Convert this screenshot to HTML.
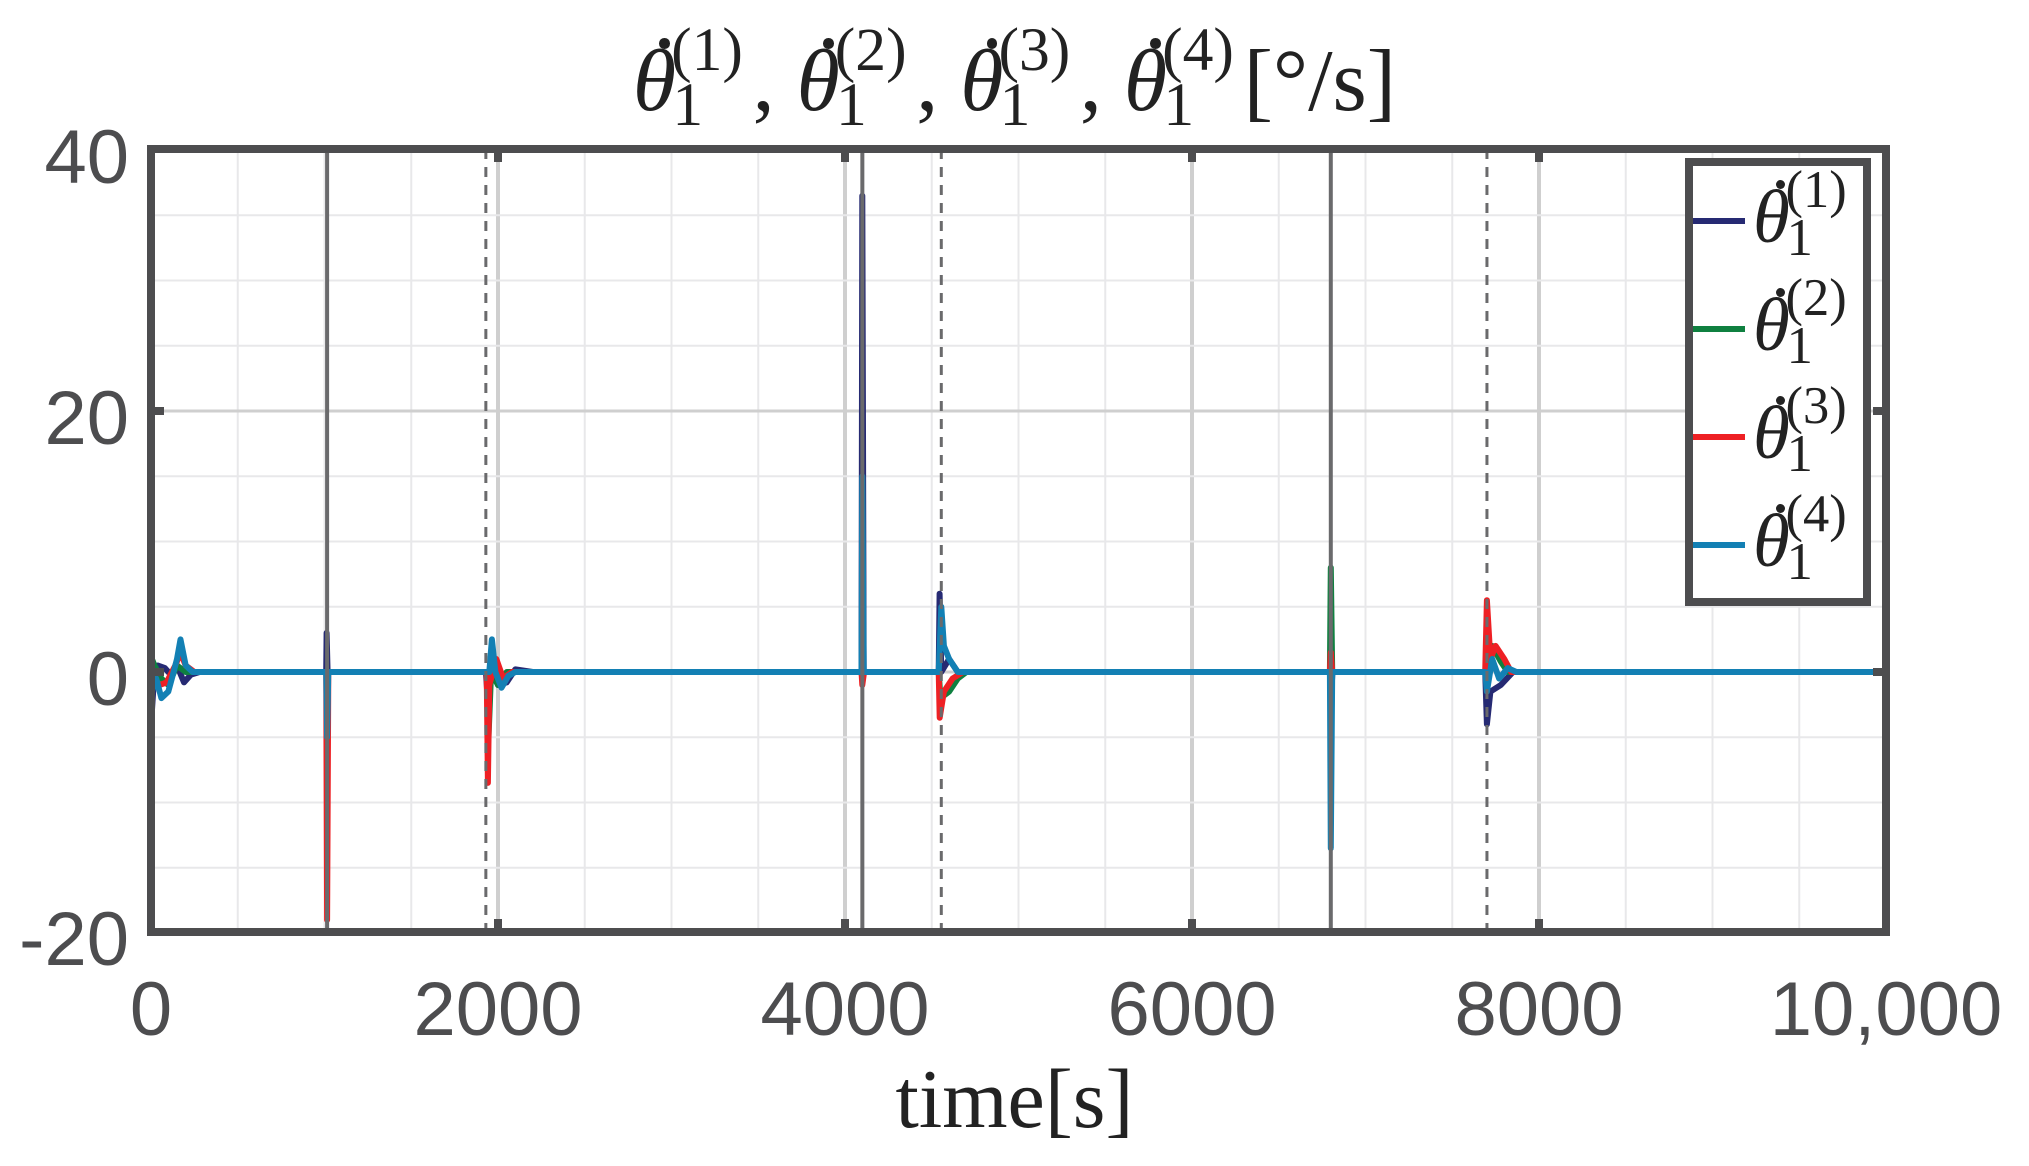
<!DOCTYPE html>
<html><head><meta charset="utf-8"><style>
html,body{margin:0;padding:0;background:#fff;}
body{width:2029px;height:1166px;position:relative;overflow:hidden;font-family:"Liberation Sans",sans-serif;}
.tk{position:absolute;color:#4d4d4f;font-size:76px;line-height:1;}
.ser{font-family:"Liberation Serif",serif;color:#222;line-height:1;white-space:nowrap;}
.sym{display:inline-block;position:relative;width:1.36em;height:1em;vertical-align:top;}
.th{font-style:italic;position:absolute;left:0;top:0;}
.dt{display:block;position:absolute;left:.3em;top:.0em;width:.12em;height:.12em;border-radius:50%;background:#222;}
.sp{position:absolute;left:.62em;top:-.3em;font-size:.7em;}
.sb{position:absolute;left:.64em;top:.6em;font-size:.7em;}
</style></head><body>
<svg id="s" width="2029" height="1166" style="position:absolute;left:0;top:0">
<g id="grid"></g>
<g id="data" fill="none" stroke-width="6" stroke-linejoin="round"></g>
<g id="ev"></g>
<rect x="151" y="149" width="1735" height="783" fill="none" stroke="#4d4d4f" stroke-width="8"/>
<g id="ticks" stroke="#4d4d4f" stroke-width="8"></g>
</svg>
<div class="tk" style="right:1900px;top:120px">40</div>
<div class="tk" style="right:1900px;top:381px">20</div>
<div class="tk" style="right:1900px;top:642px">0</div>
<div class="tk" style="right:1900px;top:902px">-20</div>
<div class="tk" style="left:151px;top:972px;transform:translateX(-50%)">0</div>
<div class="tk" style="left:498px;top:972px;transform:translateX(-50%)">2000</div>
<div class="tk" style="left:845px;top:972px;transform:translateX(-50%)">4000</div>
<div class="tk" style="left:1192px;top:972px;transform:translateX(-50%)">6000</div>
<div class="tk" style="left:1539px;top:972px;transform:translateX(-50%)">8000</div>
<div class="tk" style="left:1886px;top:972px;transform:translateX(-50%)">10,000</div>
<div class="ser" style="position:absolute;left:0;width:2029px;top:1058px;text-align:center;font-size:84px;">time[s]</div>
<div class="ser" style="position:absolute;left:0;width:2029px;top:38px;text-align:center;font-size:88px;">
<span class="sym"><span class="th">θ</span><span class="dt"></span><span class="sp">(1)</span><span class="sb">1</span></span>, <span class="sym"><span class="th">θ</span><span class="dt"></span><span class="sp">(2)</span><span class="sb">1</span></span>, <span class="sym"><span class="th">θ</span><span class="dt"></span><span class="sp">(3)</span><span class="sb">1</span></span>, <span class="sym"><span class="th">θ</span><span class="dt"></span><span class="sp">(4)</span><span class="sb">1</span></span>[°/s]
</div>
<div style="position:absolute;left:1685px;top:158px;width:170px;height:432px;border:8px solid #4d4d4f;background:#fff;">
 <div class="ser" style="position:absolute;left:60px;top:14px;font-size:75px;"><span class="sym"><span class="th">θ</span><span class="dt"></span><span class="sp">(1)</span><span class="sb">1</span></span></div>
 <div class="ser" style="position:absolute;left:60px;top:122px;font-size:75px;"><span class="sym"><span class="th">θ</span><span class="dt"></span><span class="sp">(2)</span><span class="sb">1</span></span></div>
 <div class="ser" style="position:absolute;left:60px;top:230px;font-size:75px;"><span class="sym"><span class="th">θ</span><span class="dt"></span><span class="sp">(3)</span><span class="sb">1</span></span></div>
 <div class="ser" style="position:absolute;left:60px;top:338px;font-size:75px;"><span class="sym"><span class="th">θ</span><span class="dt"></span><span class="sp">(4)</span><span class="sb">1</span></span></div>
 <div style="position:absolute;left:0;top:52px;width:52px;height:6px;background:#262a73"></div>
 <div style="position:absolute;left:0;top:160px;width:52px;height:6px;background:#0f8040"></div>
 <div style="position:absolute;left:0;top:268px;width:52px;height:6px;background:#ee2024"></div>
 <div style="position:absolute;left:0;top:376px;width:52px;height:6px;background:#1380b4"></div>
</div>
<script>
var NS="http://www.w3.org/2000/svg";
function X(t){return 151+t*0.1735;}function Y(v){return 672-v*13.05;}
function el(p,tag,a){var e=document.createElementNS(NS,tag);for(var k in a)e.setAttribute(k,a[k]);document.getElementById(p).appendChild(e);}
for(var t=500;t<10000;t+=500){el("grid","line",{x1:X(t),x2:X(t),y1:149,y2:932,stroke:t%2000==0?"#cfcfcf":"#e8e8ea","stroke-width":t%2000==0?4:2});}
for(var v=-15;v<40;v+=5){el("grid","line",{x1:151,x2:1886,y1:Y(v),y2:Y(v),stroke:v%20==0?"#cfcfcf":"#e8e8ea","stroke-width":v%20==0?3:2});}
[2000,4000,6000,8000].forEach(function(t){el("ticks","line",{x1:X(t),x2:X(t),y1:149,y2:162});el("ticks","line",{x1:X(t),x2:X(t),y1:932,y2:919});});
[20,0].forEach(function(v){el("ticks","line",{x1:151,x2:164,y1:Y(v),y2:Y(v)});el("ticks","line",{x1:1886,x2:1873,y1:Y(v),y2:Y(v)});});
function path(c,pts){var d="";pts.forEach(function(p,i){d+=(i?"L":"M")+X(p[0]).toFixed(1)+" "+Y(p[1]).toFixed(1);});el("data","path",{d:d,stroke:c});}
var navy=[[0,0],[5,-3],[15,-1],[40,0.5],[80,0.3],[120,-0.3],[150,0.5],[190,-0.8],[230,-0.2],[280,0],[1010,0],[1012,3],[1018,0],[1930,0],[1945,-3],[1960,1],[2000,-1],[2050,-0.8],[2100,0.2],[2200,0],[4095,0],[4100,36.5],[4108,0],[4540,0],[4545,6],[4555,0],[4600,1],[4650,0],[6800,0],[6805,-1],[6810,0],[7690,0],[7700,-4],[7720,-1.5],[7780,-1],[7850,0],[10000,0]];
var green=[[0,0],[5,1],[20,0.5],[60,-0.5],[100,-1],[150,0.5],[200,0],[1010,0],[1940,0],[1945,-5],[1960,0],[2000,-1],[2050,0],[4095,0],[4100,-0.5],[4110,0],[4540,0],[4550,-2],[4600,-1.5],[4650,-0.5],[4700,0],[6795,0],[6800,8],[6808,0],[7690,0],[7700,1],[7730,2],[7780,0.8],[7820,0],[10000,0]];
var red=[[0,0],[10,-1],[50,-1],[90,-0.8],[140,0.5],[170,1.5],[200,0.5],[250,0],[1010,0],[1015,-19],[1022,0],[1935,0],[1942,-8.5],[1950,-1],[1990,1],[2030,-0.5],[2080,0],[4095,0],[4100,-1],[4110,0],[4540,0],[4546,-3.5],[4570,-1.5],[4620,-0.5],[4680,0],[6795,0],[6800,1.5],[6808,0],[7690,0],[7700,5.5],[7720,1],[7750,2],[7800,1],[7840,0],[10000,0]];
var blue=[[0,0],[5,-1.5],[30,-0.5],[60,-2],[100,-1.5],[130,0],[150,1],[170,2.5],[200,0.5],[240,0],[1010,0],[1015,-5],[1022,0],[1940,0],[1950,0],[1965,2.5],[1985,0],[2020,-1.2],[2060,-0.3],[2100,0],[4095,0],[4100,15],[4108,0],[4540,0],[4555,5],[4570,2],[4600,1],[4650,0],[6795,0],[6800,-13.5],[6808,0],[7690,0],[7700,-1.5],[7730,1],[7770,-0.5],[7820,0.3],[7870,0],[10000,0]];
path("#262a73",navy);path("#0f8040",green);path("#ee2024",red);path("#1380b4",blue);
[1015,4100,6800].forEach(function(t){el("ev","line",{x1:X(t),x2:X(t),y1:149,y2:932,stroke:"#6a6a6c","stroke-width":4});});
[1930,4555,7700].forEach(function(t){el("ev","line",{x1:X(t),x2:X(t),y1:149,y2:932,stroke:"#6a6a6c","stroke-width":3,"stroke-dasharray":"10,8"});});
</script>
</body></html>
